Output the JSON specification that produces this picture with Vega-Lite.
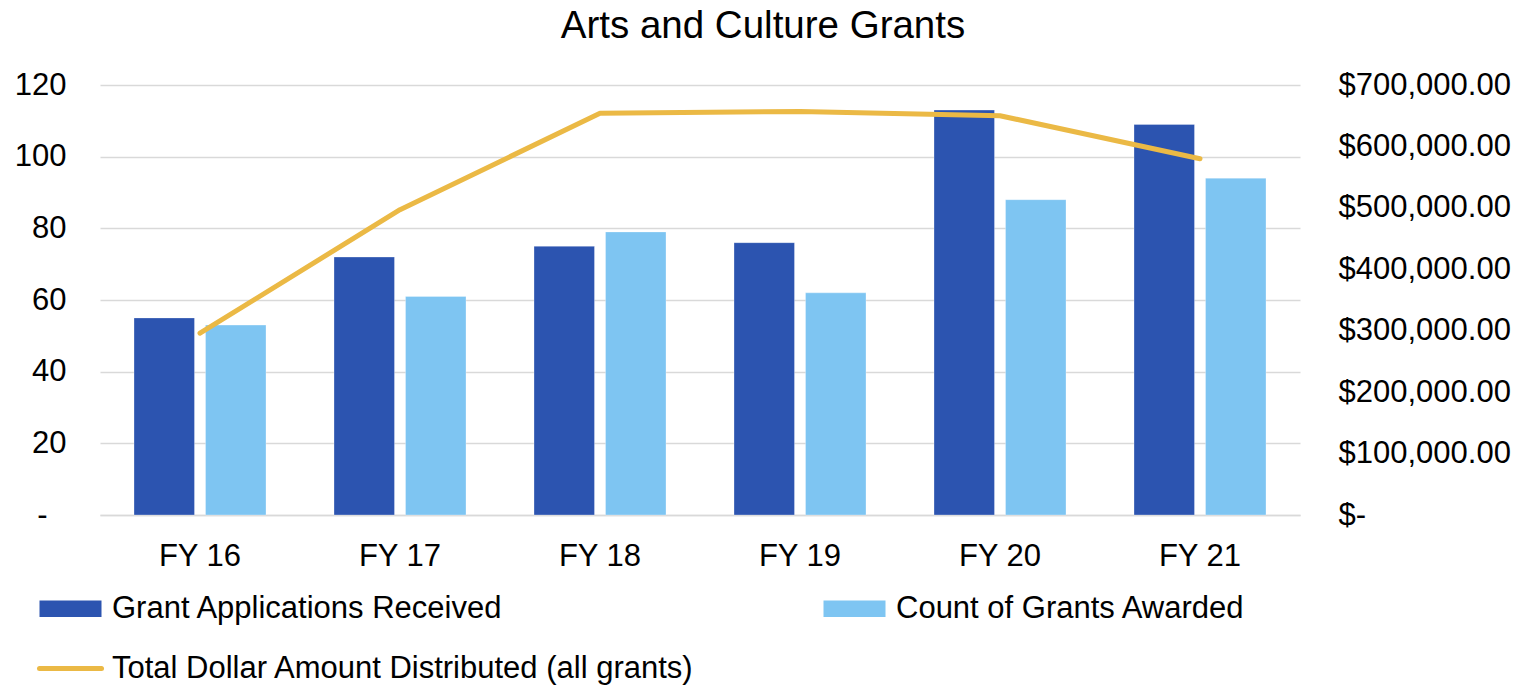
{
  "$schema": "https://vega.github.io/schema/vega-lite/v6.json",
  "width": 1200,
  "height": 430,
  "autosize": {"type": "none"},
  "padding": {"left": 100, "top": 85, "right": 222, "bottom": 173},
  "background": "white",
  "config": {
    "font": "Liberation Sans",
    "view": {"stroke": null},
    "axis": {"labelFont": "Liberation Sans", "labelColor": "#000000", "labelFontSize": 31, "ticks": false, "tickSize": 0, "title": null}
  },
  "title": {
    "text": "Arts and Culture Grants",
    "font": "Liberation Sans",
    "fontSize": 38.5,
    "fontWeight": "normal",
    "color": "#000000",
    "anchor": "middle",
    "frame": "group",
    "dx": 63,
    "offset": 23
  },
  "data": {
    "values": [
      {"year": "FY 16", "series": "Grant Applications Received", "value": 55},
      {"year": "FY 16", "series": "Count of Grants Awarded", "value": 53},
      {"year": "FY 16", "series": "Total Dollar Amount Distributed (all grants)", "value": 296000},
      {"year": "FY 17", "series": "Grant Applications Received", "value": 72},
      {"year": "FY 17", "series": "Count of Grants Awarded", "value": 61},
      {"year": "FY 17", "series": "Total Dollar Amount Distributed (all grants)", "value": 497000},
      {"year": "FY 18", "series": "Grant Applications Received", "value": 75},
      {"year": "FY 18", "series": "Count of Grants Awarded", "value": 79},
      {"year": "FY 18", "series": "Total Dollar Amount Distributed (all grants)", "value": 654000},
      {"year": "FY 19", "series": "Grant Applications Received", "value": 76},
      {"year": "FY 19", "series": "Count of Grants Awarded", "value": 62},
      {"year": "FY 19", "series": "Total Dollar Amount Distributed (all grants)", "value": 657000},
      {"year": "FY 20", "series": "Grant Applications Received", "value": 113},
      {"year": "FY 20", "series": "Count of Grants Awarded", "value": 88},
      {"year": "FY 20", "series": "Total Dollar Amount Distributed (all grants)", "value": 650000},
      {"year": "FY 21", "series": "Grant Applications Received", "value": 109},
      {"year": "FY 21", "series": "Count of Grants Awarded", "value": 94},
      {"year": "FY 21", "series": "Total Dollar Amount Distributed (all grants)", "value": 580000}
    ]
  },
  "encoding": {
    "x": {
      "field": "year",
      "type": "nominal",
      "sort": null,
      "scale": {"paddingInner": 0.34, "paddingOuter": 0.17},
      "axis": {
        "labelAngle": 0,
        "labelPadding": 26,
        "domain": true,
        "domainColor": "#D9D9D9",
        "domainWidth": 1.5,
        "grid": false
      }
    }
  },
  "layer": [
    {
      "transform": [{"filter": "datum.series !== 'Total Dollar Amount Distributed (all grants)'"}],
      "mark": {"type": "bar", "stroke": "#FFFFFF", "strokeWidth": 0.6, "strokeOpacity": 0.5},
      "encoding": {
        "xOffset": {
          "field": "series",
          "type": "nominal",
          "sort": ["Grant Applications Received", "Count of Grants Awarded"],
          "scale": {"paddingInner": 0.154, "paddingOuter": 0}
        },
        "y": {
          "field": "value",
          "type": "quantitative",
          "scale": {"domain": [0, 120], "nice": false},
          "axis": {
            "orient": "left",
            "values": [0, 20, 40, 60, 80, 100, 120],
            "labelExpr": "datum.value === 0 ? '-' : datum.label",
            "labelPadding": 34,
            "domain": false,
            "grid": true,
            "gridColor": "#D9D9D9",
            "gridWidth": 1.5,
            "encoding": {"labels": {"dx": {"value": {"expr": "datum.value === 0 ? -19 : 0"}}}}
          }
        },
        "color": {
          "field": "series",
          "type": "nominal",
          "scale": {
            "domain": ["Grant Applications Received", "Count of Grants Awarded", "Total Dollar Amount Distributed (all grants)"],
            "range": ["#2C54B0", "#7EC5F2", "#EBB945"]
          },
          "legend": {
            "orient": "none",
            "legendX": -45,
            "legendY": 508,
            "direction": "horizontal",
            "columns": 2,
            "title": null,
            "labelFont": "Liberation Sans",
            "labelFontSize": 31,
            "labelColor": "#000000",
            "labelLimit": 1200,
            "labelOffset": 26,
            "symbolSize": 961,
            "symbolStrokeWidth": 1.5,
            "columnPadding": 128,
            "rowPadding": 28,
            "encoding": {
              "symbols": {
                "shape": {"value": {"expr": "datum.value === 'Total Dollar Amount Distributed (all grants)' ? 'M-2,0H2' : 'M-2,-0.54H2V0.54H-2Z'"}},
                "fill": {"value": {"expr": "datum.value === 'Total Dollar Amount Distributed (all grants)' ? 'transparent' : scale('color', datum.value)"}},
                "stroke": {"value": {"expr": "scale('color', datum.value)"}},
                "strokeWidth": {"value": {"expr": "datum.value === 'Total Dollar Amount Distributed (all grants)' ? 5 : 0"}},
                "strokeCap": {"value": "round"},
                "opacity": {"value": 1}
              }
            }
          }
        }
      }
    },
    {
      "transform": [{"filter": "datum.series === 'Total Dollar Amount Distributed (all grants)'"}],
      "mark": {"type": "line", "strokeWidth": 5, "strokeCap": "round", "strokeJoin": "round"},
      "encoding": {
        "y": {
          "field": "value",
          "type": "quantitative",
          "scale": {"domain": [0, 700000], "nice": false},
          "axis": {
            "orient": "right",
            "values": [0, 100000, 200000, 300000, 400000, 500000, 600000, 700000],
            "labelExpr": "datum.value === 0 ? '$-' : '$' + format(datum.value, ',.2f')",
            "labelPadding": 38,
            "labelAlign": "left",
            "domain": false,
            "grid": false
          }
        },
        "color": {"field": "series", "type": "nominal"}
      }
    }
  ],
  "resolve": {"scale": {"y": "independent"}}
}
